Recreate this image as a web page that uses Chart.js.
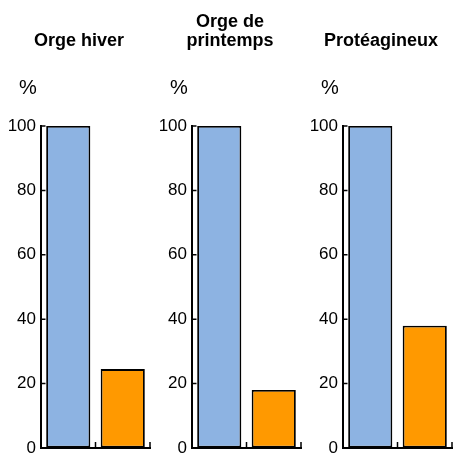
<!DOCTYPE html>
<html>
<head>
<meta charset="utf-8">
<script src="https://cdn.jsdelivr.net/npm/chart.js@4"></script>
<style>
  html, body { margin: 0; padding: 0; background: #fff; }
  #wrap { position: relative; width: 453px; height: 457px; }
  canvas { position: absolute; top: 0; }
</style>
</head>
<body>
<div id="wrap">
  <canvas id="c0" width="151" height="457" style="left:0px"></canvas>
  <canvas id="c1" width="151" height="457" style="left:151px"></canvas>
  <canvas id="c2" width="151" height="457" style="left:302px"></canvas>
</div>
<script>
// ---- data ----
const panelTitles = [["Orge hiver"], ["Orge de", "printemps"], ["Protéagineux"]];
const barCategories = ["", ""];
const blueValues = [100, 100, 100];
const orangeValues = [24.5, 18, 38];
const yTicks = [0, 20, 40, 60, 80, 100];
const unitLabel = "%";

const FONT = "'Liberation Sans', Arial, Helvetica, sans-serif";
const BLUE = "#8DB3E2";
const ORANGE = "#FF9900";

const textPlugin = {
  id: 'panelText',
  afterDraw(chart, args, opts) {
    const ctx = chart.ctx;
    ctx.save();
    ctx.fillStyle = '#000';
    ctx.textBaseline = 'alphabetic';
    ctx.textAlign = 'center';
    ctx.font = "bold 18px " + FONT;
    const lines = opts.lines;
    const cx = 79;
    const lastBase = 46;
    lines.forEach((l, i) => {
      ctx.fillText(l, cx, lastBase - (lines.length - 1 - i) * 19);
    });
    ctx.textAlign = 'left';
    ctx.font = "20px " + FONT;
    ctx.fillText(opts.unit, chart.chartArea.left - 22, 94);
    ctx.restore();
  }
};

const innerTicks = {
  id: 'innerTicks',
  afterDatasetsDraw(chart) {
    const ctx = chart.ctx;
    const ys = chart.scales.y, xs = chart.scales.x;
    const area = chart.chartArea;
    ctx.save();
    ctx.strokeStyle = '#000';
    ctx.lineWidth = 1.5;
    ctx.beginPath();
    ys.ticks.forEach((t, i) => {
      const py = ys.getPixelForTick(i);
      ctx.moveTo(area.left, py);
      ctx.lineTo(area.left + 4.5, py);
    });
    const n = chart.data.labels.length;
    for (let i = 1; i <= n; i++) {
      const px = xs.getPixelForValue(i - 0.5);
      ctx.moveTo(px, area.bottom);
      ctx.lineTo(px, area.bottom - 6);
    }
    ctx.stroke();
    ctx.restore();
  }
};

for (let p = 0; p < 3; p++) {
  new Chart(document.getElementById('c' + p), {
    type: 'bar',
    data: {
      labels: barCategories,
      datasets: [{
        data: [blueValues[p], orangeValues[p]],
        backgroundColor: [BLUE, ORANGE],
        borderColor: '#000',
        borderWidth: 1.8,
        borderSkipped: false,
        barPercentage: 0.81,
        categoryPercentage: 1
      }]
    },
    options: {
      responsive: false,
      animation: false,
      devicePixelRatio: 1,
      layout: { padding: { top: 126, bottom: 9, left: 0, right: 1 } },
      plugins: {
        legend: { display: false },
        tooltip: { enabled: false },
        title: { display: false },
        panelText: { lines: panelTitles[p], unit: unitLabel }
      },
      scales: {
        x: {
          offset: true,
          ticks: { display: false },
          grid: { display: false },
          border: { display: true, color: '#000', width: 2 },
          afterFit(s) { s.height = 0; s.paddingLeft = 0; s.paddingRight = 0; }
        },
        y: {
          min: 0, max: 100,
          afterBuildTicks(s) { s.ticks = yTicks.map(v => ({ value: v })); },
          ticks: { color: '#000', font: { family: FONT, size: 17 }, padding: 5 },
          grid: { drawOnChartArea: false, drawTicks: false },
          border: { display: true, color: '#000', width: 2 },
          afterFit(s) { s.width = 41; s.paddingTop = 0; s.paddingBottom = 0; }
        }
      }
    },
    plugins: [textPlugin, innerTicks]
  });
}
</script>
</body>
</html>
